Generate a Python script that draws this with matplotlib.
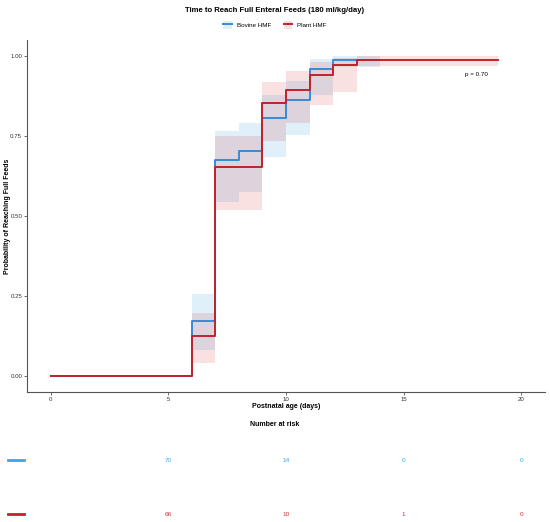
import numpy as np
import matplotlib
matplotlib.use("Agg")
import matplotlib.pyplot as plt
from matplotlib.transforms import blended_transform_factory
from matplotlib.patches import Patch
from matplotlib.lines import Line2D

plt.rcParams['font.family'] = ['Liberation Sans', 'DejaVu Sans']

# Kaplan-Meier style step data
bov_t = [0, 6, 7, 8, 9, 10, 11, 12, 14]
bov_p = [0, 0.173, 0.676, 0.704, 0.805, 0.862, 0.958, 0.988, 0.988]
bov_lo = [0, 0.08, 0.544, 0.575, 0.685, 0.752, 0.877, 0.965, 0.965]
bov_hi = [0, 0.255, 0.767, 0.79, 0.878, 0.923, 0.99, 1.0, 1.0]

pla_t = [0, 6, 7, 9, 10, 11, 12, 13, 19]
pla_p = [0, 0.126, 0.654, 0.852, 0.895, 0.942, 0.973, 0.988, 0.988]
pla_lo = [0, 0.04, 0.52, 0.735, 0.79, 0.848, 0.887, 0.97, 0.97]
pla_hi = [0, 0.198, 0.75, 0.918, 0.952, 0.98, 0.995, 1.0, 1.0]

risk_times = [5, 10, 15, 20]
bov_risk = [70, 14, 0, 0]
pla_risk = [66, 10, 1, 0]

labels = ["Bovine HMF", "Plant HMF"]
c_bov = "#3a8ad4"
c_pla = "#c0222a"
band_bov = "#2e9fdf"
band_pla = "#d8323a"
c_bov_txt = "#3aa6e8"
c_pla_txt = "#c8323a"
a_band = 0.15

fig = plt.figure(figsize=(5.5, 5.22), dpi=100)
ax = fig.add_axes([27/550, 1 - 392/522, 518/550, 352/522])

for t, lo, hi, c in [(bov_t, bov_lo, bov_hi, band_bov),
                     (pla_t, pla_lo, pla_hi, band_pla)]:
    ax.fill_between(t, lo, hi, step='post', color=c, alpha=a_band, lw=0)
for t, p, c in [(bov_t, bov_p, c_bov), (pla_t, pla_p, c_pla)]:
    ax.step(t, p, where='post', color=c, lw=1.4)

ax.set_xlim(-1, 21)
ax.set_ylim(-0.05, 1.05)
ax.set_xticks([0, 5, 10, 15, 20])
ax.set_yticks([0, 0.25, 0.5, 0.75, 1.0])
ax.set_yticklabels(["0.00", "0.25", "0.50", "0.75", "1.00"])
ax.tick_params(labelsize=4.4, length=2, width=0.5, pad=1.5, colors="#333333")
for s in ['top', 'right']:
    ax.spines[s].set_visible(False)
for s in ['left', 'bottom']:
    ax.spines[s].set_color("#555555")
    ax.spines[s].set_linewidth(0.8)

ax.set_xlabel("Postnatal age (days)", fontsize=5, fontweight='bold', labelpad=1)
ax.set_ylabel("Probability of Reaching Full Feeds", fontsize=5, fontweight='bold')
ax.yaxis.set_label_coords(-0.03, 0.5)
ax.text(18.1, 0.943, "p = 0.70", fontsize=4.5, ha='center', va='center')

fig.text(0.5, 1 - 10/522, "Time to Reach Full Enteral Feeds (180 ml/kg/day)",
         fontsize=5.6, fontweight='bold', ha='center', va='center')

handles = [(Patch(color=band_bov, alpha=a_band, lw=0), Line2D([], [], color=c_bov, lw=1.4)),
           (Patch(color=band_pla, alpha=a_band, lw=0), Line2D([], [], color=c_pla, lw=1.4))]
fig.legend(handles, labels, loc='center', bbox_to_anchor=(0.5, 1 - 25/522), ncol=2,
           frameon=False, fontsize=4.5, handlelength=1.4, handleheight=1.6,
           handletextpad=0.8, columnspacing=2.0)

fig.text(0.5, 1 - 425/522, "Number at risk", fontsize=5, fontweight='bold',
         ha='center', va='center')

tr = blended_transform_factory(ax.transData, fig.transFigure)
for vals, y, c_txt, c_key in [(bov_risk, 1 - 460/522, c_bov_txt, c_bov_txt),
                              (pla_risk, 1 - 514/522, c_pla_txt, c_pla)]:
    for x, v in zip(risk_times, vals):
        fig.text(x, y, str(v), transform=tr, fontsize=4.6, color=c_txt,
                 ha='center', va='center')
    fig.add_artist(Line2D([8/550, 24/550], [y, y], color=c_key, lw=2,
                          transform=fig.transFigure))

fig.savefig("out.png", dpi=100)
